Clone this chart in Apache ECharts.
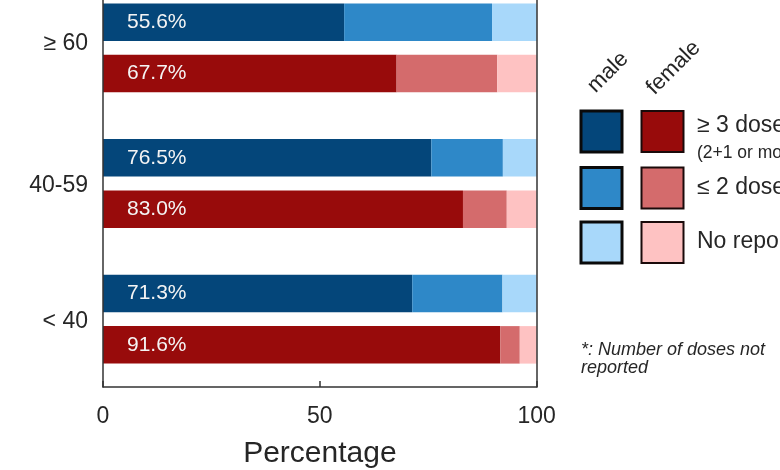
<!DOCTYPE html>
<html>
<head>
<meta charset="utf-8">
<script src="https://cdn.jsdelivr.net/npm/echarts@6/dist/echarts.min.js"></script>
<style>html,body{margin:0;padding:0;background:#fff;}#c{width:780px;height:470px;}</style>
</head>
<body>
<div id="c"></div>
<script>
var categories = ['≥ 60', '40-59', '< 40'];
var male3 = [55.6, 75.7, 71.3];
var male2 = [34.1, 16.5, 20.8];
var maleNR = [10.3, 7.8, 7.9];
var female3 = [67.7, 83.0, 91.6];
var female2 = [23.2, 10.1, 4.5];
var femaleNR = [9.1, 6.9, 3.9];
var maleLabels = ['55.6%', '76.5%', '71.3%'];
var femaleLabels = ['67.7%', '83.0%', '91.6%'];

var FONT = "'Liberation Sans', Arial, Helvetica, sans-serif";
var colors = {
  m3: '#04467A', m2: '#2E88C8', mNR: '#A8D8FA',
  f3: '#980B0B', f2: '#D46B6C', fNR: '#FEC2C2'
};
var BW = 37.5;

function barLabel(labels) {
  return {
    show: true, position: 'insideLeft', distance: 24,
    color: '#F4F4F4', fontSize: 21, fontFamily: FONT,
    formatter: function (p) { return labels[p.dataIndex]; }
  };
}
function mk(name, data, stack, color, label) {
  var s = { name: name, type: 'bar', stack: stack, data: data, barWidth: BW,
    itemStyle: { color: color }, silent: true };
  if (stack === 'm') s.barGap = '37%';
  if (label) s.label = label;
  return s;
}

var chart = echarts.init(document.getElementById('c'));
var legendItems = [];
var rows = [{y: 110, m: colors.m3, f: colors.f3}, {y: 166.5, m: colors.m2, f: colors.f2}, {y: 221, m: colors.mNR, f: colors.fNR}];
rows.forEach(function (r) {
  legendItems.push({ type: 'rect', shape: {x: 581, y: r.y + 1, width: 41, height: 41}, style: {fill: r.m, stroke: '#0a0a0a', lineWidth: 3}, z: 10 });
  legendItems.push({ type: 'rect', shape: {x: 641.5, y: r.y + 1, width: 42, height: 41}, style: {fill: r.f, stroke: '#1a0a0a', lineWidth: 2}, z: 10 });
});
var txt = function (t, x, y, size, extra) {
  var o = { type: 'text', x: x, y: y, z: 10,
    style: Object.assign({ text: t, fill: '#262626', font: size + 'px ' + FONT, textAlign: 'left', textVerticalAlign: 'middle' }, extra || {}) };
  return o;
};
legendItems.push(txt('≥ 3 doses', 697, 126, 23));
legendItems.push(txt('(2+1 or more)', 697, 153, 17.5));
legendItems.push(txt('≤ 2 doses', 697, 188, 23));
legendItems.push(txt('No report*', 697, 242, 23));
var male = txt('male', 599, 97, 22, {textVerticalAlign: 'bottom'});
male.rotation = Math.PI / 4;
var female = txt('female', 658, 99, 22, {textVerticalAlign: 'bottom'});
female.rotation = Math.PI / 4;
legendItems.push(male, female);
legendItems.push(txt('*: Number of doses not', 581, 350, 18, {font: 'italic 18px ' + FONT}));
legendItems.push(txt('reported', 581, 368, 18, {font: 'italic 18px ' + FONT}));

chart.setOption({
  animation: false,
  grid: { left: 103, right: 243.3, top: -20, bottom: 83, containLabel: false, outerBoundsMode: 'none' },
  xAxis: {
    type: 'value', min: 0, max: 100, interval: 50,
    axisLine: { show: true, lineStyle: { color: '#333', width: 1.5 } },
    axisTick: { show: true, inside: true, length: 6, lineStyle: { color: '#333', width: 1.5 } },
    splitLine: { show: false },
    axisLabel: { color: '#262626', fontSize: 23, fontFamily: FONT, margin: 18 },
    name: 'Percentage', nameLocation: 'middle', nameGap: 52,
    nameTextStyle: { color: '#262626', fontSize: 30, fontFamily: FONT },
    z: 5
  },
  yAxis: [{
    type: 'category', data: categories, inverse: true,
    axisLine: { show: true, lineStyle: { color: '#333', width: 1.5 } },
    axisTick: { show: false },
    axisLabel: {
      color: '#262626', fontSize: 23, fontFamily: FONT, margin: 15,
      formatter: function (v, i) { return i === 0 ? '{a|' + v + '}' : '{b|' + v + '}'; },
      rich: {
        a: { color: '#262626', fontSize: 23, fontFamily: FONT, padding: [0, 0, 8, 0] },
        b: { color: '#262626', fontSize: 23, fontFamily: FONT, padding: [5, 0, 0, 0] }
      }
    },
    z: 5
  }, {
    type: 'category', data: categories, inverse: true, position: 'right',
    axisLine: { show: true, lineStyle: { color: '#333', width: 1.5 } },
    axisTick: { show: false }, axisLabel: { show: false }, z: 5
  }],
  series: [
    mk('male ≥3', male3, 'm', colors.m3, barLabel(maleLabels)),
    mk('male ≤2', male2, 'm', colors.m2),
    mk('male NR', maleNR, 'm', colors.mNR),
    mk('female ≥3', female3, 'f', colors.f3, barLabel(femaleLabels)),
    mk('female ≤2', female2, 'f', colors.f2),
    mk('female NR', femaleNR, 'f', colors.fNR)
  ],
  graphic: legendItems
});
</script>
</body>
</html>
